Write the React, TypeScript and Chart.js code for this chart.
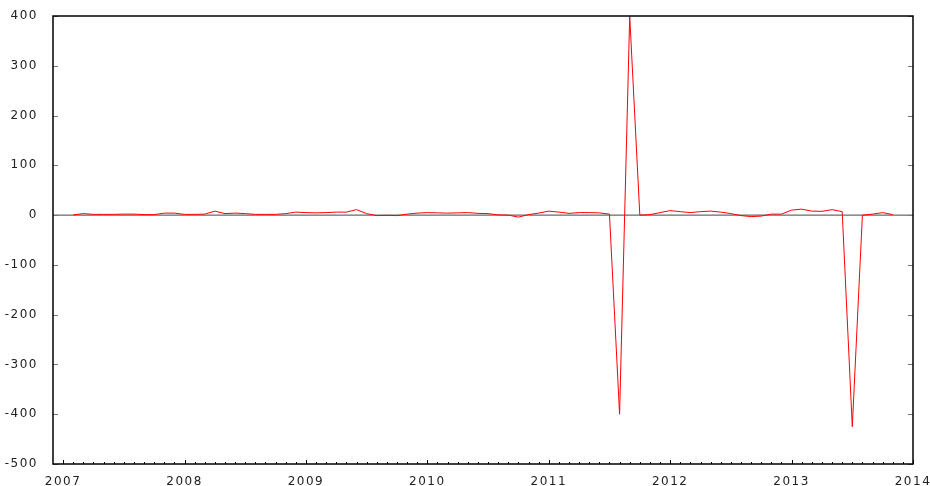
import React, { useEffect, useRef } from 'react';
import Chart from 'chart.js/auto';

// monthly series, first point is Feb 2007
const firstYear = 2007;
const firstMonth = 2;
const values = [
  0.5, 3, 1.5, 1.5, 1.5, 2, 2, 1, 1, 4, 4,
  1.5, 1.5, 2, 8, 3, 4, 3, 1.5, 1.5, 1.5, 3, 6,
  5, 4.5, 5, 6, 6, 11, 3, -1, -0.5, -1, 2, 4,
  5, 4.5, 4, 4.5, 5, 3.5, 3, 0.5, 0, -4, 1, 4,
  8, 6, 3.5, 5, 5, 4.5, 2, -400, 400, 0, 1, 5,
  9, 7, 5, 7, 8, 6, 3, -1, -3, -2, 2, 2,
  10, 12, 8, 7.5, 11, 7, -425, 0, 2, 5, 1,
];
const yearTicks = [2007, 2008, 2009, 2010, 2011, 2012, 2013, 2014];
const valueTicks = [-500, -400, -300, -200, -100, 0, 100, 200, 300, 400];

const framePlugin = {
  id: 'frame',
  beforeDraw(chart: any) {
    chart.ctx.letterSpacing = '1.5px';
  },
  beforeDatasetsDraw(chart: any) {
    const { ctx, chartArea: a, scales } = chart;
    const y0 = scales.y.getPixelForValue(0);
    ctx.save();
    ctx.lineWidth = 1;
    ctx.strokeStyle = '#444';
    ctx.beginPath();
    ctx.moveTo(a.left, y0);
    ctx.lineTo(a.right, y0);
    ctx.stroke();
    ctx.restore();
  },
  afterDatasetsDraw(chart: any) {
    const { ctx, chartArea: a, scales } = chart;
    ctx.save();
    ctx.lineWidth = 1;
    // y ticks, inward on both sides
    ctx.strokeStyle = '#777';
    ctx.beginPath();
    valueTicks.forEach((v) => {
      const py = Math.round(scales.y.getPixelForValue(v)) + 0.5;
      ctx.moveTo(a.left, py);
      ctx.lineTo(a.left + 5, py);
      ctx.moveTo(a.right - 5, py);
      ctx.lineTo(a.right, py);
    });
    ctx.stroke();
    // x ticks: years plus monthly minor ticks
    ctx.strokeStyle = '#000';
    ctx.beginPath();
    const start = yearTicks[0];
    const end = yearTicks[yearTicks.length - 1];
    for (let k = 0; k <= (end - start) * 12; k++) {
      const px = Math.round(scales.x.getPixelForValue(start + k / 12)) + 0.5;
      const len = k % 12 === 0 ? 4 : 2;
      ctx.moveTo(px, a.bottom);
      ctx.lineTo(px, a.bottom - len);
    }
    ctx.stroke();
    // border
    ctx.lineWidth = 1.5;
    ctx.strokeRect(a.left, a.top, a.right - a.left, a.bottom - a.top);
    ctx.restore();
  },
};

const App: React.FC = () => {
  const chartRef = useRef<HTMLCanvasElement | null>(null);
  const chartInstance = useRef<Chart | null>(null);

  useEffect(() => {
    document.body.style.margin = '0';
    if (chartRef.current) {
      if (chartInstance.current) {
        chartInstance.current.destroy();
      }
      const points = values.map((v, i) => ({
        x: firstYear + (firstMonth - 1 + i) / 12,
        y: v,
      }));
      const tickFont = { family: 'DejaVu Sans', size: 12 };
      chartInstance.current = new Chart(chartRef.current, {
        type: 'line',
        data: {
          datasets: [
            {
              data: points,
              borderColor: '#ff0000',
              borderWidth: 1,
              pointRadius: 0,
              tension: 0,
              fill: false,
            },
          ],
        },
        plugins: [framePlugin],
        options: {
          responsive: false,
          animation: false,
          layout: { padding: { top: 16, right: 17, left: 0, bottom: 0 } },
          plugins: {
            legend: { display: false },
            tooltip: { enabled: false },
          },
          scales: {
            x: {
              type: 'linear',
              min: yearTicks[0] - 1 / 12,
              max: yearTicks[yearTicks.length - 1],
              grid: { display: false },
              border: { display: false },
              afterBuildTicks: (scale: any) => {
                scale.ticks = yearTicks.map((v) => ({ value: v }));
              },
              afterFit: (scale: any) => {
                scale.height = 22;
                scale.paddingLeft = 0;
                scale.paddingRight = 0;
              },
              ticks: {
                font: tickFont,
                color: '#222',
                padding: 3,
                maxRotation: 0,
                autoSkip: false,
                callback: (v: any) => String(v),
              },
            },
            y: {
              type: 'linear',
              min: valueTicks[0],
              max: valueTicks[valueTicks.length - 1],
              grid: { display: false },
              border: { display: false },
              afterBuildTicks: (scale: any) => {
                scale.ticks = valueTicks.map((v) => ({ value: v }));
              },
              afterFit: (scale: any) => {
                scale.width = 53;
                scale.paddingTop = 0;
                scale.paddingBottom = 0;
              },
              ticks: {
                font: tickFont,
                color: '#222',
                padding: 7,
                autoSkip: false,
                callback: (v: any) => String(v),
              },
            },
          },
        },
      });
    }

    return () => {
      if (chartInstance.current) {
        chartInstance.current.destroy();
        chartInstance.current = null;
      }
    };
  }, []);

  return <canvas ref={chartRef} width={930} height={486} />;
};

export default App;
